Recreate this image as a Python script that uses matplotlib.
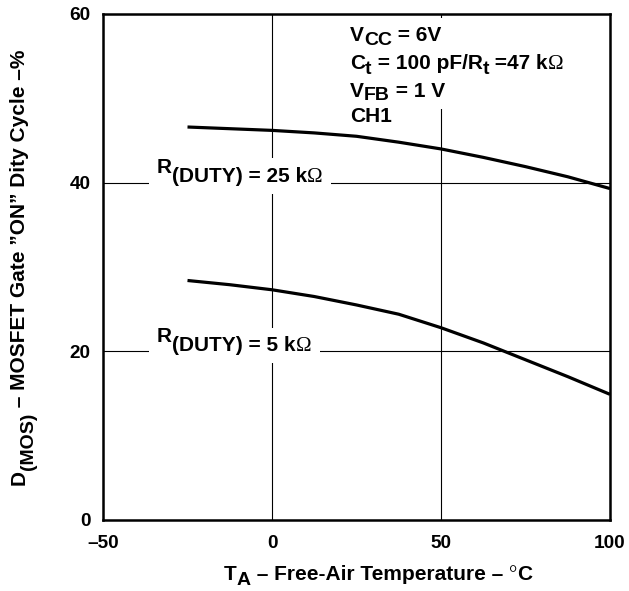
import matplotlib
matplotlib.use("Agg")
import matplotlib.pyplot as plt

plt.rcParams['font.family'] = ['Liberation Sans', 'DejaVu Sans']
plt.rcParams['font.weight'] = 'bold'

# ---- data ----
temp = [-25, -12.5, 0, 12.5, 25, 37.5, 50, 62.5, 75, 87.5, 100]
duty_25k = [46.6, 46.4, 46.2, 45.9, 45.5, 44.8, 44.0, 43.0, 41.9, 40.7, 39.3]
duty_5k = [28.4, 27.9, 27.3, 26.5, 25.5, 24.4, 22.8, 21.0, 19.0, 17.0, 14.9]
xticks = [-50, 0, 50, 100]
xticklabels = ['\u201350', '0', '50', '100']
yticks = [0, 20, 40, 60]
yticklabels = ['0', '20', '40', '60']

TICK = 13.7
FS = 15
SUB = 14

fig = plt.figure(figsize=(6.29, 5.91), dpi=100)
ax = fig.add_axes([103/629, (591-520)/591, 507/629, 506/591])
ax.set_xlim(-50, 100)
ax.set_ylim(0, 60)
ax.set_xticks(xticks)
ax.set_xticklabels(xticklabels)
ax.set_yticks(yticks)
ax.set_yticklabels(yticklabels)
ax.tick_params(length=0, labelsize=TICK)
ax.tick_params(axis='x', pad=11)
ax.tick_params(axis='y', pad=9)
for s in ax.spines.values():
    s.set_linewidth(1.8)
ax.grid(True, color='black', linewidth=0.8)
ax.set_axisbelow(True)

ax.plot(temp, duty_25k, color='black', lw=2.3, zorder=6, solid_capstyle='butt')
ax.plot(temp, duty_5k, color='black', lw=2.3, zorder=6, solid_capstyle='butt')

SERIF = dict(family='Liberation Serif', weight='normal')


def chain(pieces, x0, y0, coords, rotation=0, bg=False, pad=6):
    """pieces: list of (text, size, drop_px, extra_kw)"""
    for hidden in ([True, False] if bg else [False]):
        prev = None
        for txt, size, drop, kw in pieces:
            opts = dict(fontsize=size, ha='left', va='baseline',
                        textcoords='offset pixels', annotation_clip=False)
            opts.update(kw)
            if rotation:
                opts.update(rotation=rotation, rotation_mode='anchor')
                off = (drop, 0)
            else:
                off = (0, -drop)
            if hidden:
                opts.update(color='none', zorder=3,
                            bbox=dict(facecolor='white', edgecolor='none', pad=pad))
            else:
                opts.update(color='black', zorder=4)
            if prev is None:
                xy, xyc = (x0, y0), coords
            elif rotation:
                xy, xyc = (x0, 1), (coords, prev)
            else:
                xy, xyc = (1, y0), (prev, coords)
            prev = ax.annotate(txt, xy=xy, xycoords=xyc, xytext=off, **opts)


# R(DUTY) labels
chain([('R', FS, 0, {}), ('(DUTY) = 25 k', FS, 9, {}), ('\u03a9', FS, 9, SERIF)],
      -34.0, 41.2, 'data', bg=True)
chain([('R', FS, 0, {}), ('(DUTY) = 5 k', FS, 9, {}), ('\u03a9', FS, 9, SERIF)],
      -34.0, 21.1, 'data', bg=True)

# conditions block
chain([('V', FS, 0, {}), ('CC', SUB, 3.5, {}), (' = 6V', FS, 0, {})],
      23.1, 56.74, 'data', bg=True)
chain([('C', FS, 0, {}), ('t', SUB, 5, {}), (' = 100 pF/R', FS, 0, {}),
       ('t', SUB, 5, {}), (' =47 k', FS, 0, {}), ('\u03a9', FS, 0, SERIF)],
      23.1, 53.46, 'data', bg=True)
chain([('V', FS, 0, {}), ('FB', SUB, 3.5, {}), (' = 1 V', FS, 0, {})],
      23.1, 50.2, 'data', bg=True)
chain([('CH1', FS, 0, {})], 23.1, 47.2, 'data', bg=True)

# axis labels
chain([('T', FS, 0, {}), ('A', SUB, 5, {}), (' \u2013 Free-Air Temperature \u2013 ', FS, 0, {}),
       ('\u00b0', FS, 0, SERIF), ('C', FS, 0, {})],
      224, 11, 'figure pixels')
chain([('D', FS, 0, {}), ('(MOS)', SUB, 8, {}),
       (' \u2013 MOSFET Gate \u201dON\u201d Dity Cycle \u2013%', FS, 0, {})],
      25, 106, 'figure pixels', rotation=90)

fig.savefig('out.png', dpi=100)
